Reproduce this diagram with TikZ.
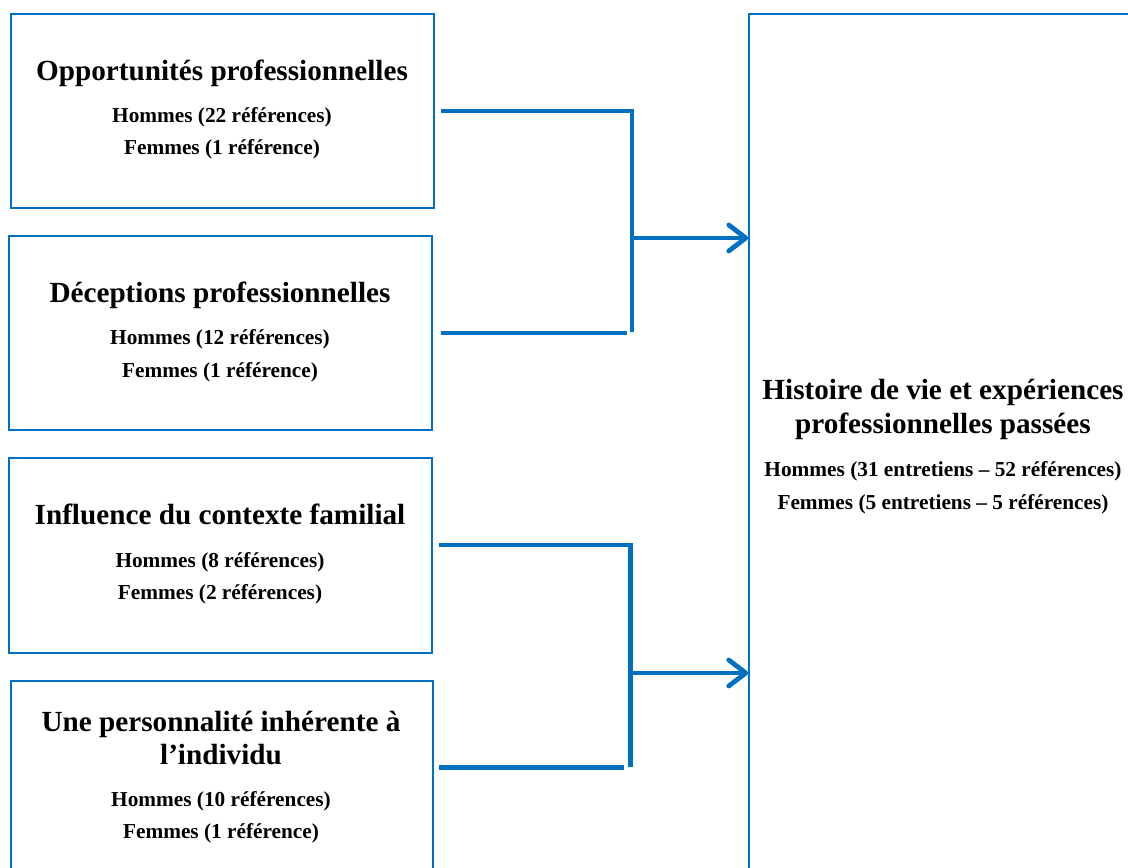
\documentclass[tikz,border=0pt]{standalone}
\usepackage{fontspec}
\setmainfont{Liberation Serif}
\usetikzlibrary{arrows.meta}
\definecolor{boxblue}{HTML}{0070C0}
\tikzset{
  box/.style={draw=boxblue, line width=1.6pt, inner sep=0pt, fill=none},
  ttl/.style={anchor=base, font=\fontsize{29.2}{34}\selectfont\bfseries, inner sep=0pt},
  sub/.style={anchor=base, font=\fontsize{21.3}{25}\selectfont\bfseries, inner sep=0pt},
  conn/.style={draw=boxblue, line width=4.8pt},
  arr/.style={draw=boxblue, line width=4.8pt, -{Straight Barb[length=17pt,width=26pt,round]}}
}
\begin{document}
\begin{tikzpicture}[x=1pt,y=-1pt]
\useasboundingbox (0,0) rectangle (1128,868);
\clip (0,0) rectangle (1128,868);
% boxes
\node[box, minimum width=423pt, minimum height=194pt] (b1) at (222.5,111) {};
\node[box, minimum width=423pt, minimum height=194pt] (b2) at (220.5,333) {};
\node[box, minimum width=423pt, minimum height=195pt] (b3) at (220.5,555.5) {};
\node[box, minimum width=422pt, minimum height=190pt] (b4) at (222,776) {};
\node[box, minimum width=395pt, minimum height=860pt] (R) at (946.5,444) {};
% texts
\node[ttl] (t1) at (222,80) {Opportunités professionnelles};
\node[sub] (h1) at (222,122.5) {Hommes (22 références)};
\node[sub] (f1) at (222,154) {Femmes (1 référence)};
\node[ttl] (t2) at (220,302) {Déceptions professionnelles};
\node[sub] (h2) at (220,344) {Hommes (12 références)};
\node[sub] (f2) at (220,377) {Femmes (1 référence)};
\node[ttl] (t3) at (220,524) {Influence du contexte familial};
\node[sub] (h3) at (220,567) {Hommes (8 références)};
\node[sub] (f3) at (220,599) {Femmes (2 références)};
\node[ttl] (t4a) at (221,731.5) {Une personnalité inhérente à};
\node[ttl] (t4b) at (221,764) {l’individu};
\node[sub] (h4) at (221,806.5) {Hommes (10 références)};
\node[sub] (f4) at (221,838) {Femmes (1 référence)};
\node[ttl] (tRa) at (943,399) {Histoire de vie et expériences};
\node[ttl] (tRb) at (943,433) {professionnelles passées};
\node[sub] (hR) at (943,476.5) {Hommes (31 entretiens – 52 références)};
\node[sub] (fR) at (943,509) {Femmes (5 entretiens – 5 références)};
% junction coordinates
\coordinate (s1) at (441,111);
\coordinate (k1) at (632,332);
\coordinate (s2) at (441,333);
\coordinate (e2) at (626.5,333);
\coordinate (m1) at (633,238);
\coordinate (s3) at (439,545);
\coordinate (k3) at (630.5,766.5);
\coordinate (s4) at (439,767.3);
\coordinate (e4) at (624,767.3);
\coordinate (m2) at (631,673);
% connectors
\draw[conn] (s1) -| (k1);
\draw[conn] (s2) -- (e2);
\draw[arr] (m1) -- (m1 -| R.west);
\draw[conn] (s3) -| (k3);
\draw[conn] (s4) -- (e4);
\draw[arr] (m2) -- (m2 -| R.west);
\end{tikzpicture}
\end{document}
